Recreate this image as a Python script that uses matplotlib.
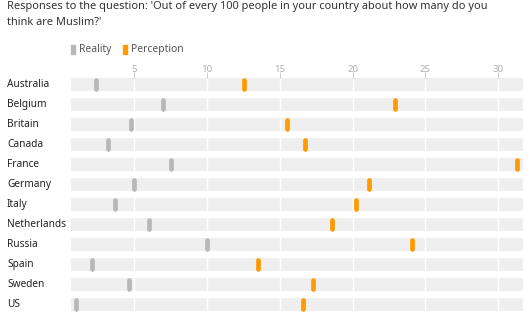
import matplotlib
matplotlib.use("Agg")
import matplotlib.pyplot as plt
from matplotlib.patches import Rectangle

countries = ["Australia", "Belgium", "Britain", "Canada", "France", "Germany",
             "Italy", "Netherlands", "Russia", "Spain", "Sweden", "US"]
reality = [2.4, 7.0, 4.8, 3.2, 7.5, 5.0, 3.7, 6.0, 10.0, 2.1, 4.6, 1.0]
perception = [12.5, 22.9, 15.5, 16.7, 31.3, 21.1, 20.2, 18.6, 24.1, 13.5, 17.3, 16.6]
ticks = [5, 10, 15, 20, 25, 30]
xmin, xmax = 0.65, 31.7

title = ("Responses to the question: 'Out of every 100 people in your country about how many do you\n"
         "think are Muslim?'")

grey = "#b8b8b8"
orange = "#ff9a00"
band = "#efefef"

plt.rcParams["font.family"] = ["Noto Sans", "DejaVu Sans"]

fig = plt.figure(figsize=(5.28, 3.22), dpi=100)
ax = fig.add_axes([71 / 528, 1 - 314.3 / 322, 452 / 528, (314.3 - 74.3) / 322])
ax.set_xlim(xmin, xmax)
ax.set_ylim(len(countries) - 0.5, -0.5)
ax.axis("off")

half = 0.333
for i, name in enumerate(countries):
    ax.barh(i, xmax - xmin, left=xmin, height=2 * half, color=band, zorder=1)
    ax.text(-64 / 452, i, name, transform=ax.get_yaxis_transform(), ha="left",
            va="center", fontsize=7.3, color="#222222")

for t in ticks:
    ax.vlines(t, -0.5 + (1 - 2 * half) / 2, len(countries) - 0.5, color="white",
              lw=1.0, zorder=2)
    ax.vlines(t, -0.62, -half, color="#cccccc", lw=0.7, zorder=2, clip_on=False)
    ax.text(t, -0.72, str(t), ha="center", va="center", fontsize=7,
            color="#b0b0b0", clip_on=False)

ys = list(range(len(countries)))
ax.vlines(reality, [y - 0.22 for y in ys], [y + 0.22 for y in ys], color=grey,
          lw=3.4, capstyle="round", zorder=3)
ax.vlines(perception, [y - 0.22 for y in ys], [y + 0.22 for y in ys], color=orange,
          lw=3.4, capstyle="round", zorder=3)

fig.text(7 / 528, 1 - 1 / 322, title, ha="left", va="top", fontsize=7.95,
         color="#333333", linespacing=1.6)

# legend
def legend_item(x, color, label):
    fig.patches.append(Rectangle((x / 528, 1 - 54 / 322), 4 / 528, 9 / 322,
                                 transform=fig.transFigure, color=color))
    fig.text((x + 8) / 528, 1 - 49.5 / 322, label, ha="left", va="center",
             fontsize=7.4, color="#555555")

legend_item(71, grey, "Reality")
legend_item(123, orange, "Perception")

fig.savefig("out.png", dpi=100)
